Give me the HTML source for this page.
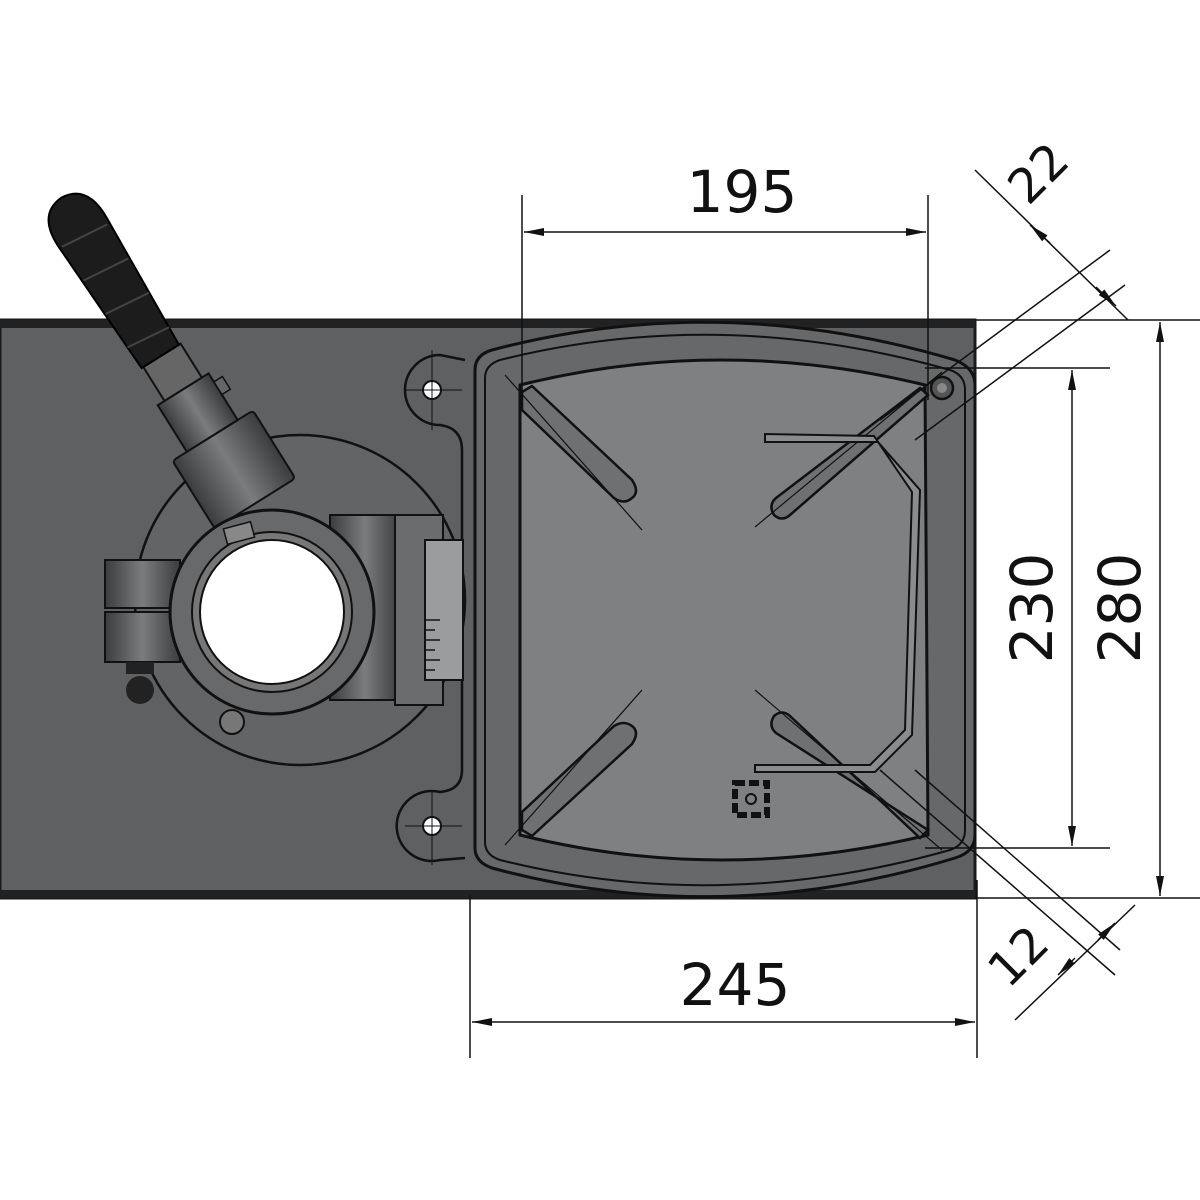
<!DOCTYPE html>
<html><head><meta charset="utf-8"><style>html,body{margin:0;padding:0;background:#fff}svg{display:block}</style></head>
<body>
<svg width="1200" height="1200" viewBox="0 0 1200 1200" xmlns="http://www.w3.org/2000/svg" font-family="'DejaVu Sans','Liberation Sans',sans-serif">
<defs>
<marker id="a" viewBox="0 0 20 10" refX="20" refY="5" markerWidth="20" markerHeight="10" markerUnits="userSpaceOnUse" orient="auto-start-reverse"><path d="M0,1 L20,5 L0,9 Z" fill="#111"/></marker>
<linearGradient id="g1" x1="0" x2="1"><stop offset="0" stop-color="#3a3c3e"/><stop offset="0.5" stop-color="#7a7c7e"/><stop offset="1" stop-color="#3a3c3e"/></linearGradient>
</defs>
<!-- base plate -->
<rect x="0" y="320" width="975" height="578" fill="#5e6062" stroke="#1a1a1a" stroke-width="3"/>
<rect x="0" y="320" width="975" height="8" fill="#222"/>
<rect x="0" y="890" width="975" height="8" fill="#222"/>
<!-- mounting ears -->
<path d="M465,360 L440,355 A35,35 0 1 0 440,425 Q462,428 462,450 L462,770 Q462,790 440,792 A35,35 0 1 0 440,860 L465,858" fill="none" stroke="#111" stroke-width="2.5"/>
<circle cx="432" cy="390" r="9" fill="#fff" stroke="#111" stroke-width="2"/>
<circle cx="432" cy="826" r="9" fill="#fff" stroke="#111" stroke-width="2"/>
<line x1="405" y1="390" x2="462" y2="390" stroke="#111"/><line x1="432" y1="350" x2="432" y2="430" stroke="#111"/>
<line x1="405" y1="826" x2="462" y2="826" stroke="#111"/><line x1="432" y1="790" x2="432" y2="865" stroke="#111"/>
<!-- table -->
<path d="M475,370 Q475,355 492,350 Q720,290 955,360 Q975,368 975,385 L975,835 Q975,852 955,858 Q720,930 492,868 Q475,862 475,848 Z" fill="#666869" stroke="#111" stroke-width="3"/>
<path d="M485,378 Q485,365 500,360 Q720,305 950,370 Q965,375 965,390 L965,830 Q965,845 950,850 Q720,915 500,860 Q485,855 485,842 Z" fill="none" stroke="#111" stroke-width="2"/>
<path d="M520,385 Q720,335 925,385 L928,835 Q720,885 520,835 Z" fill="#7e8082" stroke="#111" stroke-width="3"/>
<!-- slots -->
<g stroke="#111" stroke-width="2.5" fill="#6e7072">
<path d="M522,392 L532,386 L632,480 Q640,492 632,498 Q624,505 614,498 L522,410 Z"/>
<path d="M920,388 L928,395 L790,515 Q782,522 774,515 Q768,505 776,498 Z"/>
<path d="M522,830 L532,836 L632,744 Q640,732 632,726 Q624,720 614,726 L522,812 Z"/>
<path d="M928,830 L920,838 L790,716 Q782,709 774,716 Q768,726 776,733 Z"/>
</g>
<g stroke="#111" stroke-width="1.2"><line x1="505" y1="375" x2="642" y2="530"/><line x1="942" y1="372" x2="755" y2="527"/><line x1="505" y1="845" x2="642" y2="690"/><line x1="942" y1="850" x2="755" y2="690"/></g>
<!-- wire guard -->
<path d="M765,434 L765,442 L878,442 L920,490 L912,735 L875,772 L755,772 L755,765 L870,765 L905,730 L912,492 L874,436 Z" fill="#8a8c8e" stroke="#111" stroke-width="2"/>
<circle cx="942" cy="388" r="11" fill="#555" stroke="#111" stroke-width="2.5"/><circle cx="942" cy="388" r="5" fill="#888"/>
<!-- logo -->
<rect x="735" y="783" width="32" height="32" fill="none" stroke="#111" stroke-width="6" stroke-dasharray="10 4"/><circle cx="751" cy="799" r="5" fill="none" stroke="#111" stroke-width="2"/>
<!-- column flange -->
<circle cx="300" cy="600" r="165" fill="#626466" stroke="#111" stroke-width="2.5"/>
<circle cx="232" cy="722" r="12" fill="#777" stroke="#111" stroke-width="2"/>
<!-- right boss -->
<rect x="330" y="515" width="70" height="185" fill="url(#g1)" stroke="#111" stroke-width="2"/>
<rect x="395" y="515" width="48" height="190" fill="#6a6c6e" stroke="#111" stroke-width="2"/>
<rect x="425" y="540" width="38" height="140" fill="#9a9c9e" stroke="#111" stroke-width="2"/>
<g stroke="#111" stroke-width="1.5"><line x1="425" y1="620" x2="440" y2="620"/><line x1="425" y1="630" x2="435" y2="630"/><line x1="425" y1="640" x2="440" y2="640"/><line x1="425" y1="650" x2="435" y2="650"/><line x1="425" y1="660" x2="440" y2="660"/><line x1="425" y1="670" x2="435" y2="670"/></g>
<!-- side clamp -->
<rect x="105" y="560" width="75" height="48" fill="url(#g1)" stroke="#111" stroke-width="2"/>
<rect x="105" y="612" width="75" height="50" fill="url(#g1)" stroke="#111" stroke-width="2"/>
<rect x="126" y="662" width="28" height="12" fill="#222"/>
<circle cx="140" cy="690" r="14" fill="#222"/>
<!-- handle -->
<g transform="rotate(-32 200 420)">
<rect x="155" y="440" width="95" height="80" rx="4" fill="url(#g1)" stroke="#111" stroke-width="2"/>
<rect x="172" y="385" width="60" height="55" fill="url(#g1)" stroke="#111" stroke-width="2"/>
<rect x="180" y="345" width="44" height="40" fill="#666" stroke="#111" stroke-width="2"/>
<rect x="232" y="395" width="10" height="15" fill="#666" stroke="#111" stroke-width="1.5"/>
<path d="M178,345 L172,200 Q170,160 200,158 Q230,160 228,200 L222,345 Z" fill="#1c1c1c" stroke="#000" stroke-width="2"/>
<g stroke="#444" stroke-width="2"><line x1="175" y1="200" x2="225" y2="205"/><line x1="175" y1="240" x2="225" y2="245"/><line x1="176" y1="280" x2="224" y2="285"/><line x1="177" y1="320" x2="223" y2="325"/></g>
</g>
<!-- column ring -->
<circle cx="272" cy="612" r="102" fill="#68696b" stroke="#111" stroke-width="3"/>
<circle cx="272" cy="612" r="80" fill="#777" stroke="#111" stroke-width="2"/>
<circle cx="272" cy="612" r="72" fill="#fff" stroke="#111" stroke-width="2"/>
<rect x="225" y="525" width="28" height="16" fill="#888" stroke="#111" stroke-width="1.5" transform="rotate(-15 239 533)"/>
<!-- dimension lines -->
<g stroke="#111" stroke-width="1.5" fill="none">
<line x1="522" y1="195" x2="522" y2="400"/><line x1="928" y1="195" x2="928" y2="400"/>
<line x1="524" y1="232" x2="926" y2="232" marker-start="url(#a)" marker-end="url(#a)"/>
<line x1="470" y1="895" x2="470" y2="1058"/><line x1="977" y1="880" x2="977" y2="1058"/>
<line x1="472" y1="1022" x2="975" y2="1022" marker-start="url(#a)" marker-end="url(#a)"/>
<line x1="975" y1="320" x2="1200" y2="320"/><line x1="975" y1="898" x2="1200" y2="898"/>
<line x1="1160" y1="322" x2="1160" y2="896" marker-start="url(#a)" marker-end="url(#a)"/>
<line x1="925" y1="368" x2="1110" y2="368"/><line x1="925" y1="848" x2="1110" y2="848"/>
<line x1="1072" y1="370" x2="1072" y2="846" marker-start="url(#a)" marker-end="url(#a)"/>
<!-- diagonal 22 -->
<line x1="880" y1="420" x2="1110" y2="250"/><line x1="915" y1="440" x2="1125" y2="285"/>
<line x1="975" y1="170" x2="1128" y2="320"/>
<line x1="1050" y1="243" x2="1030" y2="225" marker-end="url(#a)"/><line x1="1096" y1="287" x2="1116" y2="306" marker-end="url(#a)"/>
<!-- diagonal 12 -->
<line x1="880" y1="770" x2="1115" y2="975"/><line x1="915" y1="770" x2="1120" y2="950"/>
<line x1="1135" y1="905" x2="1015" y2="1020"/>
<line x1="1075" y1="958" x2="1058" y2="975" marker-end="url(#a)"/><line x1="1098" y1="940" x2="1115" y2="923" marker-end="url(#a)"/>
</g>
<g fill="#111" font-size="58">
<text x="742" y="212" text-anchor="middle">195</text>
<text x="735" y="1005" text-anchor="middle">245</text>
<text transform="translate(1140,608) rotate(-90)" text-anchor="middle">280</text>
<text transform="translate(1052,608) rotate(-90)" text-anchor="middle">230</text>
<text transform="translate(1050,185) rotate(-45)" text-anchor="middle" font-size="48">22</text>
<text transform="translate(1030,968) rotate(-45)" text-anchor="middle" font-size="48">12</text>
</g>
</svg>
</body></html>
